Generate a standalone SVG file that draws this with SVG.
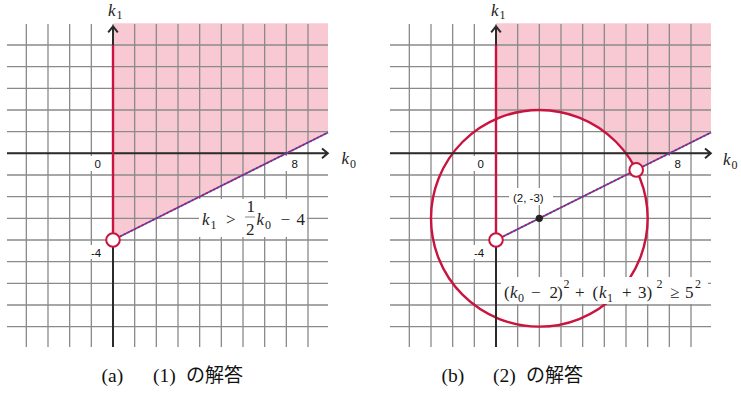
<svg xmlns="http://www.w3.org/2000/svg" xmlns:xlink="http://www.w3.org/1999/xlink" width="741" height="395" viewBox="0 0 741 395">
<style>
.grid{fill:none;stroke:#8a8a8a;stroke-width:1.3}
.axis{fill:none;stroke:#2b2b2b;stroke-width:2}
.red{fill:none;stroke:#c8143e;stroke-width:2.4}
.pink{fill:#f8c8d3}
.base{stroke:#3a55c8;stroke-width:1.6}
.dash{stroke:#d0143c;stroke-width:1.6;stroke-dasharray:2 2}
.hole{fill:#fff;stroke:#c8143e;stroke-width:2}
.box{fill:#fff}
.num{font-family:"Liberation Sans",Arial,sans-serif;font-size:11.5px;fill:#111}
.math{font-family:"Liberation Serif","DejaVu Serif",serif;font-size:17px;fill:#222}
.it{font-style:italic}
.sub{font-size:12px;font-style:normal}
.cap{font-family:"Liberation Serif","DejaVu Serif",serif;font-size:19.5px;fill:#111}
.jp{font-family:"Noto Sans CJK JP",sans-serif;font-size:19px;fill:#111}
</style>
<defs>
<path id="gridlines" class="grid" d="M26.33 24V347M48 24V347M69.67 24V347M91.33 24V347M113 24V347M134.67 24V347M156.33 24V347M178 24V347M199.67 24V347M221.33 24V347M243 24V347M264.67 24V347M286.33 24V347M308 24V347M7 45H328M7 66.67H328M7 88.33H328M7 110H328M7 131.67H328M7 153.33H328M7 175H328M7 196.67H328M7 218.33H328M7 240H328M7 261.67H328M7 283.33H328M7 305H328M7 326.67H328"/>
<g id="axes">
<path class="axis" d="M7 153.33H327.5M322 148.5L327.8 153.33L322 158.2"/>
<path class="axis" d="M113 347V26.5M108.2 32.3L113 26.3L117.8 32.3"/>
</g>
<mask id="outside">
<rect x="0" y="0" width="741" height="395" fill="#fff"/>
<circle cx="539.33" cy="218.33" r="108.33" fill="#000"/>
</mask>
</defs>

<g id="panel-a">
<polygon class="pink" points="113,23.3 328,23.3 328,132.5 113,240"/>
<use xlink:href="#gridlines"/>
<use xlink:href="#axes"/>
<g id="connectors-a">
<line class="red" x1="113" y1="240" x2="113" y2="45"/>
<line class="base" x1="113" y1="240" x2="328" y2="132.5"/>
<line class="dash" x1="113" y1="240" x2="328" y2="132.5"/>
</g>
<g id="labels-a">
<rect class="box" x="90" y="156" width="15" height="15"/>
<text class="num" x="94.5" y="168.3">0</text>
<rect class="box" x="285" y="156" width="17" height="15"/>
<text class="num" x="291.5" y="168.3">8</text>
<rect class="box" x="88" y="245" width="17" height="14"/>
<text class="num" x="91" y="256.7">-4</text>
<text class="math"><tspan class="it" x="108" y="15.5">k</tspan><tspan class="sub" x="116.5" y="19">1</tspan></text>
<text class="math"><tspan class="it" x="341.5" y="164">k</tspan><tspan class="sub" x="350" y="168">0</tspan></text>
<g id="ineq-a">
<rect class="box" x="199" y="199" width="108" height="38"/>
<text class="math"><tspan class="it" x="202" y="225">k</tspan><tspan class="sub" x="210.5" y="229">1</tspan><tspan x="226" y="225">&gt;</tspan><tspan x="246.5" y="212">1</tspan><tspan x="246" y="235">2</tspan><tspan class="it" x="256.5" y="225">k</tspan><tspan class="sub" x="265" y="229">0</tspan><tspan x="280.5" y="225">−</tspan><tspan x="296.5" y="225">4</tspan></text>
<line x1="245" y1="217" x2="255" y2="217" stroke="#333" stroke-width="0.6"/>
</g>
</g>
<g id="node-a-hole">
<circle class="hole" cx="113" cy="240" r="6.8"/>
</g>
<text class="cap" x="101.5" y="382">(a)</text>
<text class="cap" x="153" y="382">(1)</text>
<text class="jp" x="186" y="382">の解答</text>
</g>

<g id="panel-b">
<polygon class="pink" points="496,23.3 711,23.3 711,132.5 496,240" mask="url(#outside)"/>
<use xlink:href="#gridlines" transform="translate(383,0)"/>
<g id="connectors-b">
<circle class="red" cx="539.33" cy="218.33" r="108.33" stroke-width="2.2"/>
</g>
<use xlink:href="#axes" transform="translate(383,0)"/>
<g id="connectors-b2">
<line class="red" x1="496" y1="240" x2="496" y2="45"/>
<line class="base" x1="496" y1="240" x2="711" y2="132.5"/>
<line class="dash" x1="496" y1="240" x2="711" y2="132.5"/>
</g>
<g id="labels-b">
<rect class="box" x="473" y="156" width="15" height="15"/>
<text class="num" x="477.5" y="168.3">0</text>
<rect class="box" x="668" y="156" width="17" height="15"/>
<text class="num" x="674.5" y="168.3">8</text>
<rect class="box" x="471" y="245" width="17" height="14"/>
<text class="num" x="474" y="256.7">-4</text>
<text class="math"><tspan class="it" x="491" y="15.5">k</tspan><tspan class="sub" x="499.5" y="19">1</tspan></text>
<text class="math"><tspan class="it" x="723" y="165">k</tspan><tspan class="sub" x="731.5" y="169">0</tspan></text>
<g id="center-label">
<rect class="box" x="509" y="188" width="44" height="17"/>
<text class="num" x="513" y="202">(2, -3)</text>
</g>
<g id="ineq-b">
<rect class="box" x="501" y="277" width="207" height="27"/>
<text class="math"><tspan x="504" y="298">(</tspan><tspan class="it" x="510" y="298">k</tspan><tspan class="sub" x="518" y="302">0</tspan><tspan x="531" y="298">−</tspan><tspan x="549.5" y="298">2</tspan><tspan x="557" y="298">)</tspan><tspan class="sub" x="563.5" y="288">2</tspan><tspan x="575" y="298">+</tspan><tspan x="592.5" y="298">(</tspan><tspan class="it" x="599" y="298">k</tspan><tspan class="sub" x="607" y="302">1</tspan><tspan x="622" y="298">+</tspan><tspan x="638" y="298">3</tspan><tspan x="646.5" y="298">)</tspan><tspan class="sub" x="656.5" y="288">2</tspan><tspan x="670" y="298">≥</tspan><tspan x="685" y="298">5</tspan><tspan class="sub" x="695" y="288">2</tspan></text>
</g>
</g>
<g id="node-b-hole1"><circle class="hole" cx="496" cy="240" r="6.8"/></g>
<g id="node-b-hole2"><circle class="hole" cx="636.2" cy="169.9" r="6.8"/></g>
<g id="node-b-center"><circle cx="539.33" cy="218.33" r="3.6" fill="#222"/></g>
<text class="cap" x="441.5" y="382">(b)</text>
<text class="cap" x="493" y="382">(2)</text>
<text class="jp" x="526" y="382">の解答</text>
</g>
</svg>
